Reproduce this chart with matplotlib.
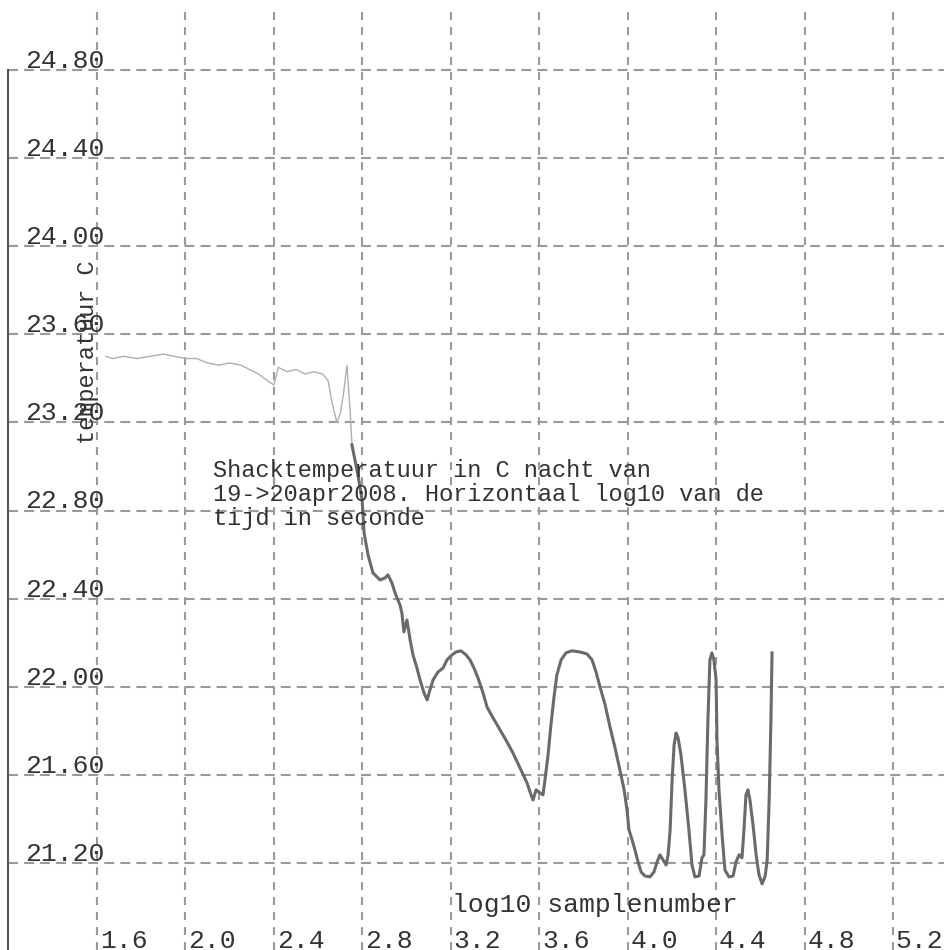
import matplotlib.pyplot as plt
from matplotlib.transforms import blended_transform_factory, offset_copy

# log10 of sample number vs temperature
early_x = [1.64, 1.67, 1.72, 1.78, 1.84, 1.90, 1.95, 2.00, 2.05, 2.10, 2.15, 2.20,
           2.25, 2.29, 2.33, 2.37, 2.40, 2.42, 2.46, 2.50, 2.54, 2.58, 2.62, 2.645,
           2.665, 2.685, 2.70, 2.715, 2.73, 2.745, 2.753]
early_y = [23.50, 23.49, 23.50, 23.49, 23.50, 23.51, 23.50, 23.49, 23.49, 23.47, 23.46, 23.47,
           23.46, 23.44, 23.42, 23.39, 23.37, 23.45, 23.43, 23.44, 23.42, 23.43, 23.42, 23.39,
           23.28, 23.20, 23.24, 23.33, 23.46, 23.25, 23.10]

temp_x = [2.753, 2.780, 2.799, 2.808, 2.826, 2.848, 2.880, 2.903, 2.916, 2.934, 2.948, 2.970,
          2.979, 2.988, 3.002, 3.016, 3.029, 3.047, 3.061, 3.079, 3.093, 3.106, 3.120, 3.142,
          3.165, 3.183, 3.206, 3.224, 3.246, 3.269, 3.287, 3.305, 3.323, 3.346, 3.364, 3.391,
          3.423, 3.454, 3.481, 3.513, 3.545, 3.563, 3.572, 3.586, 3.604, 3.617, 3.626, 3.640,
          3.653, 3.667, 3.680, 3.699, 3.721, 3.748, 3.784, 3.816, 3.839, 3.857, 3.875, 3.898,
          3.920, 3.943, 3.965, 3.984, 3.997, 4.006, 4.020, 4.033, 4.047, 4.061, 4.078, 4.101,
          4.119, 4.133, 4.146, 4.160, 4.174, 4.183, 4.192, 4.201, 4.210, 4.219, 4.228, 4.241,
          4.259, 4.277, 4.291, 4.304, 4.323, 4.336, 4.345, 4.354, 4.363, 4.372, 4.381, 4.390,
          4.400, 4.404, 4.413, 4.427, 4.440, 4.458, 4.477, 4.490, 4.504, 4.517, 4.526, 4.535,
          4.544, 4.553, 4.567, 4.581, 4.594, 4.608, 4.622, 4.631, 4.640, 4.648, 4.653]
temp_y = [23.098, 22.962, 22.848, 22.698, 22.598, 22.517, 22.485, 22.494, 22.508, 22.471, 22.426, 22.372,
          22.335, 22.249, 22.303, 22.213, 22.145, 22.085, 22.031, 21.972, 21.940, 21.986, 22.031, 22.067,
          22.085, 22.122, 22.145, 22.158, 22.163, 22.145, 22.122, 22.085, 22.040, 21.972, 21.908, 21.859,
          21.804, 21.750, 21.700, 21.632, 21.563, 21.509, 21.486, 21.532, 21.518, 21.509, 21.577, 21.691,
          21.827, 21.954, 22.054, 22.122, 22.154, 22.163, 22.158, 22.149, 22.122, 22.067, 21.999, 21.918,
          21.818, 21.722, 21.622, 21.532, 21.441, 21.350, 21.305, 21.259, 21.205, 21.159, 21.141, 21.137,
          21.159, 21.205, 21.237, 21.214, 21.191, 21.237, 21.350, 21.577, 21.736, 21.790, 21.768, 21.691,
          21.532, 21.350, 21.191, 21.137, 21.141, 21.223, 21.237, 21.486, 21.849, 22.122, 22.154, 22.122,
          22.031, 21.759, 21.532, 21.327, 21.168, 21.137, 21.141, 21.205, 21.237, 21.223, 21.350, 21.509,
          21.532, 21.486, 21.373, 21.237, 21.146, 21.105, 21.141, 21.214, 21.486, 21.849, 22.154]

xticks = [1.6, 2.0, 2.4, 2.8, 3.2, 3.6, 4.0, 4.4, 4.8, 5.2]
xtick_labels = ['1.6', '2.0', '2.4', '2.8', '3.2', '3.6', '4.0', '4.4', '4.8', '5.2']
yticks = [21.2, 21.6, 22.0, 22.4, 22.8, 23.2, 23.6, 24.0, 24.4, 24.8]
ytick_labels = ['21.20', '21.60', '22.00', '22.40', '22.80', '23.20', '23.60', '24.00', '24.40', '24.80']
title_lines = ['Shacktemperatuur in C nacht van',
               '19->20apr2008. Horizontaal log10 van de',
               'tijd in seconde']

plt.rcParams['font.family'] = ['Liberation Mono', 'DejaVu Sans Mono']
txt_col = '#333333'
grid_col = '#9a9a9a'

fig = plt.figure(figsize=(9.44, 9.50), dpi=100)
ax = fig.add_axes([8 / 944, 0, 936 / 944, 938 / 950])
ax.set_xlim(1.1975, 5.4307)
ax.set_ylim(20.805, 25.063)

for s in ['top', 'right', 'bottom']:
    ax.spines[s].set_visible(False)
ax.spines['left'].set_color('#555555')
ax.spines['left'].set_linewidth(1.5)
ax.spines['left'].set_bounds(20.805, 24.8)

ax.set_xticks(xticks)
ax.set_yticks(yticks)
ax.set_xticklabels([])
ax.set_yticklabels([])
ax.tick_params(length=0)

# dashed grid
for v in yticks:
    ax.axhline(v, color=grid_col, lw=1.5, ls=(0, (4.8, 2.9)), zorder=1)
for v in xticks:
    ax.axvline(v, color=grid_col, lw=1.5, ls=(0, (3.8, 3.4)), zorder=1)

# data
ax.plot(early_x, early_y, color='#b0b0b0', lw=1.0, zorder=3)
ax.plot(temp_x, temp_y, color='#6a6a6a', lw=2.2, zorder=3)

# tick labels drawn inside the plot
ytr = offset_copy(blended_transform_factory(ax.transAxes, ax.transData), fig=fig, y=1.5, units='points')
for v, s in zip(yticks, ytick_labels):
    ax.text(17 / 936, v, s, transform=ytr, ha='left', va='baseline', fontsize=19, color=txt_col)

xtr = offset_copy(blended_transform_factory(ax.transData, ax.transAxes), fig=fig, x=2, units='points')
for v, s in zip(xticks, xtick_labels):
    ax.text(v, 0.002, s, transform=xtr, ha='left', va='baseline', fontsize=19, color=txt_col)

ax.text(3.2056, 20.978, 'log10 samplenumber', ha='left', va='baseline', fontsize=19, color=txt_col)
ax.text(1.559, 23.52, 'temperatuur C', rotation=90, ha='center', va='center', fontsize=17, color=txt_col)

for i, line in enumerate(title_lines):
    ax.text(2.1246, 22.9525 - i * 0.1089, line, ha='left', va='baseline', fontsize=17, color=txt_col)

fig.savefig('out.png', dpi=100)
